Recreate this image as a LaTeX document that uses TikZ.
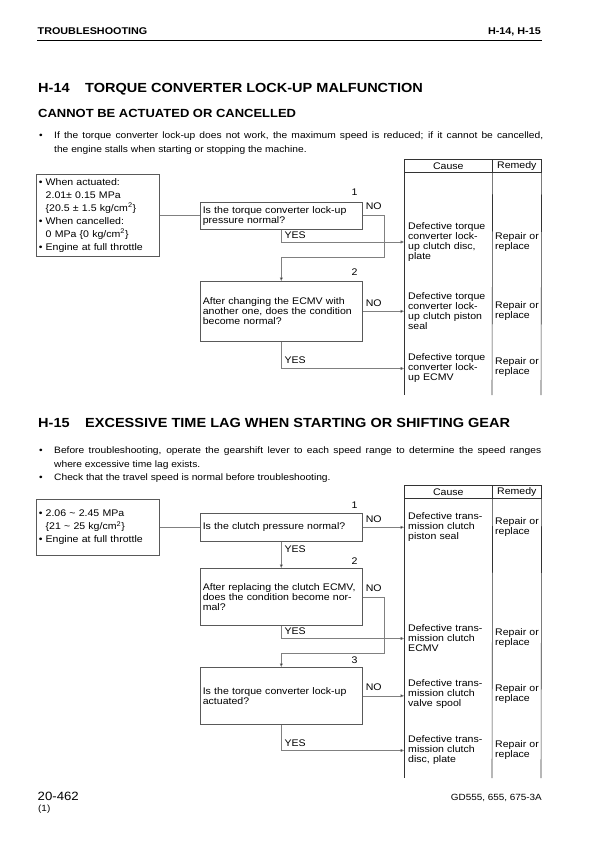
\documentclass[tikz,border=0pt]{standalone}
\usepackage{fontspec}
\setmainfont[FakeStretch=1.1]{Liberation Sans}
\usetikzlibrary{arrows.meta}
\definecolor{boxc}{gray}{0.35}
\definecolor{connc}{gray}{0.5}
\begin{document}
\begin{tikzpicture}[x=1pt,y=-1pt,
  txt/.style={inner sep=0pt,anchor=base west},
  hdr/.style={txt,font=\fontsize{9.8}{10}\selectfont\bfseries},
  ttl/.style={txt,font=\fontsize{13.2}{14}\selectfont\bfseries},
  sub/.style={txt,font=\fontsize{11.8}{12}\selectfont\bfseries},
  body/.style={txt,font=\fontsize{9.3}{10}\selectfont},
  chart/.style={font=\fontsize{9.6}{10}\selectfont},
  qbox/.style={chart,draw=boxc,line width=0.6pt,text width=157pt,inner xsep=2.5pt,inner ysep=0pt,align=left,anchor=north west},
  infobox/.style={qbox,text width=118pt,font=\fontsize{9.6}{13}\selectfont},
  cellhdr/.style={chart,draw=black!80,line width=0.6pt,inner sep=0pt,minimum height=13pt,anchor=north west},
  cause/.style={chart,anchor=west,align=left,text width=82pt,inner xsep=4pt,inner ysep=0pt},
  remedy/.style={chart,anchor=west,align=left,text width=46pt,inner xsep=3pt,inner ysep=0pt},
  lbl/.style={chart,inner sep=0pt,anchor=base west},
  num/.style={chart,inner sep=0pt,anchor=base east},
  conn/.style={draw=connc,line width=0.6pt},
  arr/.style={conn,-{Triangle[length=3.5pt,width=3pt,fill=black]}},
  tab/.style={draw=black!80,line width=0.6pt}]
\useasboundingbox (0,0) rectangle (595,842);

% page header
\node[hdr] (h1) at (37.5,34.5) {TROUBLESHOOTING};
\node[hdr,anchor=base east] (h2) at (541,34.5) {H-14, H-15};
\coordinate (rl) at (37,40.5);
\coordinate (rr) at (541.5,40.5);
\draw[line width=0.9pt] (rl) -- (rr);

% ===== H-14 =====
\node[ttl] (t14n) at (38,92.5) {H-14};
\node[ttl] (t14) at (85,92.5) {TORQUE CONVERTER LOCK-UP MALFUNCTION};
\node[sub] (s14) at (38,117.5) {CANNOT BE ACTUATED OR CANCELLED};
\node[body] (b14) at (39,138.5) {\textbullet};
\node[body] (b14t) at (54,138.5) {\makebox[489pt][s]{If the torque converter lock-up does not work, the maximum speed is reduced; if it cannot be cancelled,}};
\node[body] (b14u) at (54,153) {the engine stalls when starting or stopping the machine.};

% table
\node[cellhdr,minimum width=88pt] (ca1) at (404,159) {Cause};
\node[cellhdr,minimum width=49pt] (re1) at (492,159) {Remedy};
\coordinate (tb1a) at (404,395);
\coordinate (tb1b) at (492,395);
\coordinate (tb1c) at (541,395);
\draw[tab] (ca1.south west) -- (tb1a);
\draw[tab] (ca1.south east) -- (tb1b);
\draw[tab] (re1.south east) -- (tb1c);

% boxes
\node[infobox,minimum height=82pt] (i1) at (36,174) {\textbullet\ When actuated:\\
\phantom{\textbullet\ }2.01\textpm\ 0.15 MPa\\
\phantom{\textbullet\ }\{20.5 \textpm\ 1.5 kg/cm\textsuperscript{2}\}\\
\textbullet\ When cancelled:\\
\phantom{\textbullet\ }0 MPa \{0 kg/cm\textsuperscript{2}\}\\
\textbullet\ Engine at full throttle};
\node[qbox,minimum height=27pt] (q1) at (200,202) {Is the torque converter lock-up\\pressure normal?};
\node[qbox,minimum height=60pt] (q2) at (200,281) {After changing the ECMV with\\another one, does the condition\\become normal?};
\node[num] (n1) at ([shift={(-5,-6)}]q1.north east) {1};
\node[num] (n2) at ([shift={(-5,-6)}]q2.north east) {2};

% causes
\node[cause] (c11) at (404,242) {Defective torque\\converter lock-\\up clutch disc,\\plate};
\node[remedy] (r11) at (492,242.5) {Repair or\\replace};
\node[cause] (c12) at (404,311.5) {Defective torque\\converter lock-\\up clutch piston\\seal};
\node[remedy] (r12) at (492,311.5) {Repair or\\replace};
\node[cause] (c13) at (404,368.5) {Defective torque\\converter lock-\\up ECMV};
\node[remedy] (r13) at (492,367.5) {Repair or\\replace};

% connectors
\draw[conn] (i1.east) -- (i1.east -| q1.west);
\coordinate (k1) at (384,257);
\coordinate (k2) at (q2.north |- k1);
\draw[arr] (q1.east) -| (k1) -- (k2) -- (q2.north);
\coordinate (y1) at (q1.south |- c11.west);
\draw[arr] (q1.south) -- (y1) -- (c11.west);
\draw[arr] (q2.east) -- (q2.east -| c12.west);
\coordinate (y2) at (q2.south |- c13.west);
\draw[arr] (q2.south) -- (y2) -- (c13.west);
\node[lbl] (no1) at ([shift={(3,-6)}]q1.east) {NO};
\node[lbl] (no2) at ([shift={(3,-5)}]q2.east) {NO};
\node[lbl] (ye1) at ([shift={(3,-4)}]y1) {YES};
\node[lbl] (ye2) at ([shift={(3,-5)}]y2) {YES};

% ===== H-15 =====
\node[ttl] (t15n) at (38,427) {H-15};
\node[ttl] (t15) at (85,427) {EXCESSIVE TIME LAG WHEN STARTING OR SHIFTING GEAR};
\node[body] (b15a) at (39,453.5) {\textbullet};
\node[body] (b15t) at (54,453.5) {\makebox[487pt][s]{Before troubleshooting, operate the gearshift lever to each speed range to determine the speed ranges}};
\node[body] (b15u) at (54,467) {where excessive time lag exists.};
\node[body] (b15b) at (39,480.5) {\textbullet};
\node[body] (b15v) at (54,480.5) {Check that the travel speed is normal before troubleshooting.};

\node[cellhdr,minimum width=88pt] (ca2) at (404,485) {Cause};
\node[cellhdr,minimum width=49pt] (re2) at (492,485) {Remedy};
\coordinate (tb2a) at (404,778);
\coordinate (tb2b) at (492,778);
\coordinate (tb2c) at (541,778);
\draw[tab] (ca2.south west) -- (tb2a);
\draw[tab] (ca2.south east) -- (tb2b);
\draw[tab] (re2.south east) -- (tb2c);

\node[infobox,minimum height=56pt] (i2) at (36,499) {\textbullet\ 2.06 \textasciitilde\ 2.45 MPa\\
\phantom{\textbullet\ }\{21 \textasciitilde\ 25 kg/cm\textsuperscript{2}\}\\
\textbullet\ Engine at full throttle};
\node[qbox,minimum height=28pt] (p1) at (200,513) {Is the clutch pressure normal?};
\node[qbox,minimum height=57pt] (p2) at (200,568) {After replacing the clutch ECMV,\\does the condition become nor-\\mal?};
\node[qbox,minimum height=57pt] (p3) at (200,667) {Is the torque converter lock-up\\actuated?};
\node[num] (m1) at ([shift={(-5,-5)}]p1.north east) {1};
\node[num] (m2) at ([shift={(-5,-4)}]p2.north east) {2};
\node[num] (m3) at ([shift={(-5,-4)}]p3.north east) {3};

\node[cause] (c21) at (404,527) {Defective trans-\\mission clutch\\piston seal};
\node[remedy] (r21) at (492,527.5) {Repair or\\replace};
\node[cause] (c22) at (404,638.5) {Defective trans-\\mission clutch\\ECMV};
\node[remedy] (r22) at (492,638) {Repair or\\replace};
\node[cause] (c23) at (404,694.5) {Defective trans-\\mission clutch\\valve spool};
\node[remedy] (r23) at (492,694) {Repair or\\replace};
\node[cause] (c24) at (404,750.5) {Defective trans-\\mission clutch\\disc, plate};
\node[remedy] (r24) at (492,750.5) {Repair or\\replace};

\draw[conn] (i2.east) -- (i2.east -| p1.west);
\draw[arr] (p1.east) -- (p1.east -| c21.west);
\draw[arr] (p1.south) -- (p2.north);
\coordinate (k3) at (384,653);
\coordinate (k4) at (p3.north |- k3);
\draw[arr] (p2.east) -| (k3) -- (k4) -- (p3.north);
\coordinate (y3) at (p2.south |- c22.west);
\draw[arr] (p2.south) -- (y3) -- (c22.west);
\draw[arr] (p3.east) -- (p3.east -| c23.west);
\coordinate (y4) at (p3.south |- c24.west);
\draw[arr] (p3.south) -- (y4) -- (c24.west);
\node[lbl] (no3) at ([shift={(3,-5)}]p1.east) {NO};
\node[lbl] (no4) at ([shift={(3,-5)}]p2.east) {NO};
\node[lbl] (no5) at ([shift={(3,-5)}]p3.east) {NO};
\node[lbl] (ye3) at ([shift={(3,10.5)}]p1.south) {YES};
\node[lbl] (ye4) at ([shift={(3,-4)}]y3) {YES};
\node[lbl] (ye5) at ([shift={(3,-4)}]y4) {YES};

% footer
\node[txt,font=\fontsize{12}{12}\selectfont] (f1) at (37.5,800) {20-462};
\node[txt,font=\fontsize{9}{10}\selectfont] (f2) at (38,811.5) {(1)};
\node[txt,anchor=base east,font=\fontsize{9}{10}\selectfont] (f3) at (542,800) {GD555, 655, 675-3A};
\end{tikzpicture}
\end{document}
